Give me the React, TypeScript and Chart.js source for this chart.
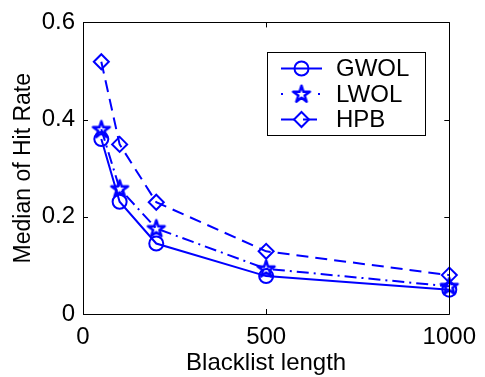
import React, { useEffect, useRef } from "react";
import { Chart, registerables } from "chart.js";

Chart.register(...registerables);

const blacklistLengths = [50, 100, 200, 500, 1000];
const gwol = [0.36, 0.231, 0.145, 0.078, 0.05];
const lwol = [0.38, 0.258, 0.176, 0.093, 0.057];
const hpb = [0.519, 0.349, 0.23, 0.129, 0.08];
const seriesNames = ["GWOL", "LWOL", "HPB"];
const xTicks = [0, 500, 1000];
const yTicks = [0, 0.2, 0.4, 0.6];

const BLUE = "#0000ff";
const FONT = "'Liberation Sans', Arial, Helvetica, sans-serif";
const DASH_LWOL = [12, 5, 2, 5];
const DASH_HPB = [12, 7];

function makeStar(color: string): HTMLCanvasElement {
  const c = document.createElement("canvas");
  c.width = 22;
  c.height = 22;
  const ctx = c.getContext("2d")!;
  ctx.strokeStyle = color;
  ctx.lineWidth = 2.5;
  ctx.lineJoin = "round";
  ctx.beginPath();
  const R = 8.8;
  const r = R * 0.382;
  for (let i = 0; i < 10; i++) {
    const a = -Math.PI / 2 + (i * Math.PI) / 5;
    const rad = i % 2 === 0 ? R : r;
    const x = 11 + rad * Math.cos(a);
    const y = 11.5 + rad * Math.sin(a);
    if (i === 0) ctx.moveTo(x, y);
    else ctx.lineTo(x, y);
  }
  ctx.closePath();
  ctx.stroke();
  return c;
}

export default function App() {
  const ref = useRef<HTMLCanvasElement | null>(null);

  useEffect(() => {
    if (!ref.current) return;
    const star = makeStar(BLUE);
    const toPts = (ys: number[]) => blacklistLengths.map((x, i) => ({ x, y: ys[i] }));

    const framePlugin = {
      id: "matlabFrame",
      afterDraw(chart: any) {
        const { ctx, chartArea } = chart;
        const { left, right, top, bottom } = chartArea;
        const xs = chart.scales.x;
        const ys = chart.scales.y;
        ctx.save();
        ctx.strokeStyle = "#000";
        ctx.lineWidth = 1;
        ctx.setLineDash([]);
        ctx.beginPath();
        ctx.rect(Math.round(left) + 0.5, Math.round(top) + 0.5, Math.round(right - left), Math.round(bottom - top));
        ctx.stroke();
        const TL = 5;
        ctx.beginPath();
        for (const v of xTicks) {
          const px = Math.round(xs.getPixelForValue(v)) + 0.5;
          ctx.moveTo(px, bottom);
          ctx.lineTo(px, bottom - TL);
          ctx.moveTo(px, top);
          ctx.lineTo(px, top + TL);
        }
        for (const v of yTicks) {
          const py = Math.round(ys.getPixelForValue(v)) + 0.5;
          ctx.moveTo(left, py);
          ctx.lineTo(left + TL, py);
          ctx.moveTo(right, py);
          ctx.lineTo(right - TL, py);
        }
        ctx.stroke();

        // legend
        const bx = 267.5, by = 52.5, bw = 158, bh = 83;
        ctx.fillStyle = "#fff";
        ctx.fillRect(bx, by, bw, bh);
        ctx.strokeStyle = "#000";
        ctx.strokeRect(bx, by, bw, bh);
        const rowsY = [68.5, 94, 119.5];
        const dashes = [[], [2, 35], [14, 8]];
        const x0 = 281, x1 = 322, mx = 301.5;
        seriesNames.forEach((name, i) => {
          const y = rowsY[i];
          ctx.strokeStyle = BLUE;
          ctx.lineWidth = 2;
          ctx.setLineDash(dashes[i]);
          ctx.beginPath();
          ctx.moveTo(x0, y);
          ctx.lineTo(x1, y);
          ctx.stroke();
          ctx.setLineDash([]);
          ctx.beginPath();
          if (i === 0) {
            ctx.arc(mx, y, 7, 0, Math.PI * 2);
            ctx.stroke();
          } else if (i === 1) {
            ctx.drawImage(star, mx - 11, y - 11);
          } else {
            const r = 7.5;
            ctx.moveTo(mx, y - r);
            ctx.lineTo(mx + r, y);
            ctx.lineTo(mx, y + r);
            ctx.lineTo(mx - r, y);
            ctx.closePath();
            ctx.stroke();
          }
          ctx.fillStyle = "#000";
          ctx.font = `24px ${FONT}`;
          ctx.textAlign = "left";
          ctx.textBaseline = "middle";
          ctx.fillText(name, 336, y + 1);
        });
        ctx.restore();
      },
    };

    const chart = new Chart(ref.current, {
      type: "line",
      data: {
        datasets: [
          {
            label: seriesNames[0],
            data: toPts(gwol),
            borderColor: BLUE,
            borderWidth: 2,
            pointStyle: "circle",
            pointRadius: 7,
            pointBorderWidth: 2,
            pointBorderColor: BLUE,
            pointBackgroundColor: "rgba(0,0,0,0)",
            tension: 0,
            clip: false as any,
          },
          {
            label: seriesNames[1],
            data: toPts(lwol),
            borderColor: BLUE,
            borderWidth: 2,
            borderDash: DASH_LWOL,
            pointStyle: star as any,
            pointRadius: 9,
            pointBorderColor: BLUE,
            pointBackgroundColor: "rgba(0,0,0,0)",
            tension: 0,
            clip: false as any,
          },
          {
            label: seriesNames[2],
            data: toPts(hpb),
            borderColor: BLUE,
            borderWidth: 2,
            borderDash: DASH_HPB,
            pointStyle: "rectRot",
            pointRadius: 7.5,
            pointBorderWidth: 2,
            pointBorderColor: BLUE,
            pointBackgroundColor: "rgba(0,0,0,0)",
            tension: 0,
            clip: false as any,
          },
        ],
      },
      options: {
        animation: false,
        responsive: false,
        maintainAspectRatio: false,
        layout: { padding: { top: 12, right: 29, left: 0, bottom: 0 } },
        plugins: {
          legend: { display: false },
          tooltip: { enabled: false },
        },
        scales: {
          x: {
            type: "linear",
            min: 0,
            max: 1000,
            afterBuildTicks: (s: any) => {
              s.ticks = xTicks.map((v) => ({ value: v }));
            },
            afterFit: (s: any) => {
              s.height = 63;
            },
            grid: { display: false, drawTicks: false },
            border: { display: false },
            ticks: {
              color: "#000",
              font: { family: FONT, size: 24 },
              padding: 9,
              maxRotation: 0,
              autoSkip: false,
              callback: (v: any) => String(v),
            },
            title: {
              display: true,
              text: "Blacklist length",
              color: "#000",
              font: { family: FONT, size: 24 },
              padding: { top: 0, bottom: -1 },
            },
          },
          y: {
            type: "linear",
            min: 0,
            max: 0.6,
            afterBuildTicks: (s: any) => {
              s.ticks = yTicks.map((v) => ({ value: v }));
            },
            afterFit: (s: any) => {
              s.width = 83;
            },
            grid: { display: false, drawTicks: false },
            border: { display: false },
            ticks: {
              color: "#000",
              font: { family: FONT, size: 24 },
              padding: 8,
              autoSkip: false,
              callback: (v: any) => String(v),
            },
            title: {
              display: true,
              text: "Median of Hit Rate",
              color: "#000",
              font: { family: FONT, size: 23 },
              padding: { top: 10, bottom: 0 },
            },
          },
        },
      },
      plugins: [framePlugin],
    });
    return () => chart.destroy();
  }, []);

  return (
    <div style={{ position: "absolute", left: 0, top: 0, width: 485, height: 377, background: "#fff" }}>
      <canvas ref={ref} width={485} height={377} style={{ width: 485, height: 377, display: "block" }} />
    </div>
  );
}
